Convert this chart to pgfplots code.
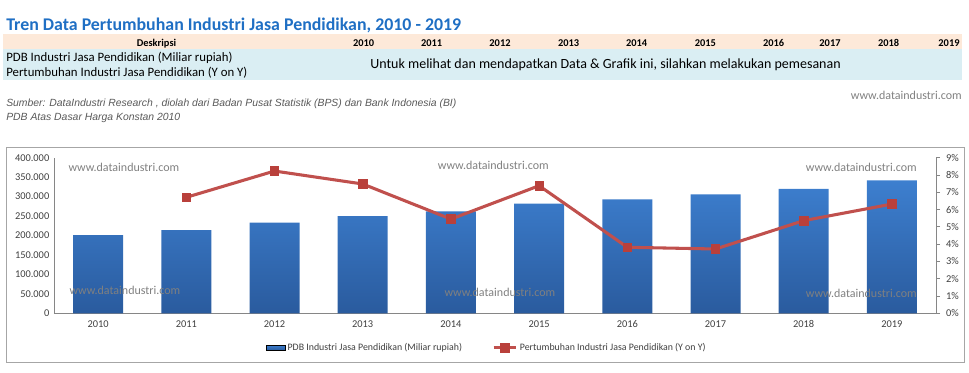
\documentclass[border=0pt]{standalone}
\usepackage{fontspec}
\setmainfont{Carlito}
\newfontfamily\arialfont{Liberation Sans}
\usepackage{pgfplots}
\pgfplotsset{compat=1.18}
\definecolor{titleblue}{HTML}{1F6FC4}
\definecolor{peach}{HTML}{FDE9D9}
\definecolor{lblue}{HTML}{DAEEF3}
\definecolor{srcgray}{HTML}{595959}
\definecolor{wmgray}{HTML}{808080}
\definecolor{bordergray}{HTML}{A6A6A6}
\definecolor{axisgray}{HTML}{868686}
\definecolor{labelgray}{HTML}{404040}
\definecolor{barTop}{HTML}{3D7FCF}
\definecolor{barBot}{HTML}{2A5B9E}
\definecolor{lineRed}{HTML}{C0504D}
\definecolor{markRed}{HTML}{B9403B}
\begin{document}
\begin{tikzpicture}
\begin{scope}[x=0.75pt,y=-0.75pt]
\useasboundingbox (0,0) rectangle (969,372);
% header table
\fill[peach] (3,34.3) rectangle (962,49.3);
\fill[lblue] (3,49.3) rectangle (962,80);
\node[anchor=base west, inner sep=0, text=titleblue, font=\fontsize{13.4}{15}\selectfont\bfseries] at (6,30) {Tren Data Pertumbuhan Industri Jasa Pendidikan, 2010 - 2019};
\begin{scope}[every node/.style={anchor=base, inner sep=0, font=\fontsize{7.8}{9}\selectfont\bfseries}]
\node at (156.5,46) {Deskripsi};
\node at (363.7,46) {2010};
\node at (431.7,46) {2011};
\node at (500,46) {2012};
\node at (568.7,46) {2013};
\node at (636.7,46) {2014};
\node at (705.3,46) {2015};
\node at (773.7,46) {2016};
\node at (830,46) {2017};
\node at (888.7,46) {2018};
\node at (949,46) {2019};
\end{scope}
\node[anchor=base west, inner sep=0, font=\fontsize{9.6}{11}\selectfont] at (6,61.7) {PDB Industri Jasa Pendidikan (Miliar rupiah)};
\node[anchor=base west, inner sep=0, font=\fontsize{9.6}{11}\selectfont] at (6,76) {Pertumbuhan Industri Jasa Pendidikan (Y on Y)};
\node[anchor=base, inner sep=0, font=\fontsize{10.5}{12}\selectfont] at (605.5,68.3) {Untuk melihat dan mendapatkan Data \& Grafik ini, silahkan melakukan pemesanan};
\node[anchor=base west, inner sep=0, text=srcgray, font=\arialfont\itshape\fontsize{7.8}{9}\selectfont] at (6,106) {Sumber: DataIndustri Research , diolah dari Badan Pusat Statistik (BPS) dan Bank Indonesia (BI)};
\node[anchor=base west, inner sep=0, text=srcgray, font=\arialfont\itshape\fontsize{7.8}{9}\selectfont] at (6,120) {PDB Atas Dasar Harga Konstan 2010};
\node[anchor=base east, inner sep=0, text=wmgray, font=\fontsize{9}{10}\selectfont] at (962,99.5) {www.dataindustri.com};
% chart border
\draw[bordergray, line width=0.75pt] (6.7,147.3) rectangle (964.3,362.7);
\end{scope}
% left axis: bars
\begin{axis}[
  at={(40.5pt,-234.975pt)}, anchor=south west,
  scale only axis, width=661.5pt, height=116.7pt,
  xmin=-0.5, xmax=9.5, ymin=0, ymax=400000,
  axis y line*=left, axis x line*=bottom,
  axis line style={draw=axisgray, line width=0.6pt, -},
  xtick={0,...,9}, xticklabels={2010,2011,2012,2013,2014,2015,2016,2017,2018,2019},
  ytick={0,50000,...,400000},
  scaled y ticks=false,
  yticklabel style={/pgf/number format/.cd, fixed, 1000 sep={.}, assume math mode=true},
  xticklabel style={/pgf/number format/assume math mode=true, yshift=-2pt},
  major tick length=0pt,
  tick label style={font=\fontsize{7.8}{9}\selectfont, text=labelgray},
  clip=false,
]
\addplot[ybar, bar width=37.5pt, draw=none, top color=barTop, bottom color=barBot] coordinates {
(0,201300) (1,214000) (2,233000) (3,250000) (4,262000) (5,282000) (6,293000) (7,306000) (8,320000) (9,342000)};
\end{axis}
% right axis: line
\begin{axis}[
  at={(40.5pt,-234.975pt)}, anchor=south west,
  scale only axis, width=661.5pt, height=116.7pt,
  xmin=-0.5, xmax=9.5, ymin=0, ymax=9,
  axis y line*=right, axis x line=none,
  axis line style={draw=axisgray, line width=0.6pt, -},
  ytick={0,...,9},
  yticklabel={\pgfmathprintnumber{\tick}\%},
  yticklabel style={/pgf/number format/assume math mode=true, xshift=1pt},
  tick align=outside, major tick length=3pt,
  tick style={draw=axisgray, line width=0.6pt},
  tick label style={font=\fontsize{7.8}{9}\selectfont, text=labelgray},
  legend columns=2,
  legend style={at={(0.491,-0.221)}, anchor=center, draw=none, fill=none,
    font=\fontsize{7.4}{9}\selectfont, text=labelgray,
    nodes={inner xsep=1.5pt},
    /tikz/every even column/.append style={column sep=21pt}},
  clip=false,
]
\addlegendimage{legend image code/.code={\fill[top color=barTop, bottom color=barBot] (0pt,-2pt) rectangle (14pt,2pt);}}
\addlegendentry{PDB Industri Jasa Pendidikan (Miliar rupiah)}
\addplot[lineRed, line width=2.3pt, mark=square*, mark size=3.2pt,
  mark options={fill=markRed, draw=markRed, line width=0.5pt}] coordinates {
(1,6.71) (2,8.23) (3,7.48) (4,5.45) (5,7.38) (6,3.82) (7,3.72) (8,5.36) (9,6.32)};
\addlegendentry{Pertumbuhan Industri Jasa Pendidikan (Y on Y)}
\end{axis}
% watermarks
\begin{scope}[x=0.75pt,y=-0.75pt, every node/.style={anchor=base west, inner sep=0, text=wmgray, font=\fontsize{9}{10}\selectfont}]
\node at (68.3,171) {www.dataindustri.com};
\node at (69.3,294) {www.dataindustri.com};
\node at (437.7,169.3) {www.dataindustri.com};
\node at (444.3,296.7) {www.dataindustri.com};
\node at (805.7,171.7) {www.dataindustri.com};
\node at (805.7,297.3) {www.dataindustri.com};
\end{scope}
\end{tikzpicture}
\end{document}
